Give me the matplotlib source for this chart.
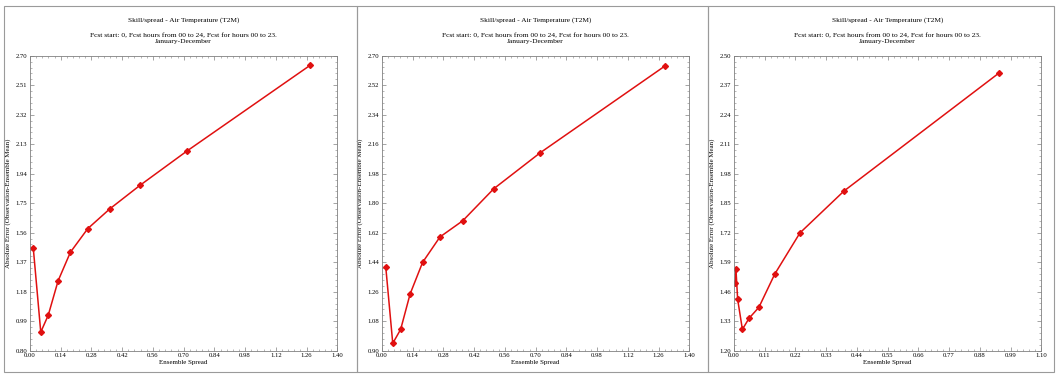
import matplotlib
matplotlib.use("Agg")
import matplotlib.pyplot as plt
from matplotlib.patches import Rectangle
from matplotlib.ticker import FixedLocator, AutoMinorLocator
import numpy as np

# ---- data ----
spread_1 = [0.015, 0.049, 0.083, 0.128, 0.184, 0.263, 0.364, 0.501, 0.715, 1.276]
error_1 = [1.46, 0.92, 1.028, 1.25, 1.434, 1.586, 1.714, 1.865, 2.086, 2.638]

spread_2 = [0.017, 0.049, 0.085, 0.128, 0.185, 0.264, 0.368, 0.509, 0.721, 1.291]
error_2 = [1.413, 0.945, 1.03, 1.246, 1.439, 1.594, 1.693, 1.888, 2.108, 2.639]

spread_3 = [0.004, 0.007, 0.013, 0.030, 0.054, 0.089, 0.146, 0.236, 0.394, 0.950]
error_3 = [1.50, 1.559, 1.427, 1.294, 1.343, 1.391, 1.538, 1.719, 1.904, 2.425]

xticks_1 = [0.00, 0.14, 0.28, 0.42, 0.56, 0.70, 0.84, 0.98, 1.12, 1.26, 1.40]
yticks_1 = [0.80, 0.99, 1.18, 1.37, 1.56, 1.75, 1.94, 2.13, 2.32, 2.51, 2.70]
xticks_2 = [0.00, 0.14, 0.28, 0.42, 0.56, 0.70, 0.84, 0.98, 1.12, 1.26, 1.40]
yticks_2 = [0.90, 1.08, 1.26, 1.44, 1.62, 1.80, 1.98, 2.16, 2.34, 2.52, 2.70]
xticks_3 = [0.00, 0.11, 0.22, 0.33, 0.44, 0.55, 0.66, 0.77, 0.88, 0.99, 1.10]
yticks_3 = [1.20, 1.33, 1.46, 1.59, 1.72, 1.85, 1.98, 2.11, 2.24, 2.37, 2.50]

title = "Skill/spread - Air Temperature (T2M)"
subtitle = "Fcst start: 0, Fcst hours from 00 to 24, Fcst for hours 00 to 23.\nJanuary-December"
xlabel = "Ensemble Spread"
ylabel = "Absolute Error (Observation-Ensemble Mean)"

W, H = 1056, 374
fig = plt.figure(figsize=(W / 100, H / 100), dpi=100)
plt.rcParams['font.family'] = ['Liberation Serif', 'DejaVu Serif']

def fx(px):
    return px / W

def fy(py):
    return 1 - py / H

# panel borders
panel_edges = [(4, 357), (357, 708), (708, 1054)]
for (l, r) in panel_edges:
    fig.patches.append(Rectangle((fx(l), fy(372)), fx(r - l), (372 - 6) / H,
                                 transform=fig.transFigure, fill=False,
                                 edgecolor="#9a9a9a", linewidth=0.8))

panels = [
    (30, spread_1, error_1, xticks_1, yticks_1),
    (382, spread_2, error_2, xticks_2, yticks_2),
    (734, spread_3, error_3, xticks_3, yticks_3),
]

ax_w = 307.3
ax_top, ax_bot = 55.7, 350.7
for left, xs, ys, xt, yt in panels:
    ax = fig.add_axes([fx(left), fy(ax_bot), fx(ax_w), (ax_bot - ax_top) / H])
    ax.plot(xs, ys, color="#e01010", linewidth=1.1, marker="D", markersize=3.0,
            markerfacecolor="#e01010", markeredgecolor="#e01010")
    ax.set_xlim(xt[0], xt[-1])
    ax.set_ylim(yt[0], yt[-1])
    ax.xaxis.set_major_locator(FixedLocator(xt))
    ax.yaxis.set_major_locator(FixedLocator(yt))
    ax.set_xticklabels([f"{v:.2f}" for v in xt])
    ax.set_yticklabels([f"{v:.2f}" for v in yt])
    ax.xaxis.set_minor_locator(AutoMinorLocator(5))
    ax.yaxis.set_minor_locator(AutoMinorLocator(5))
    ax.tick_params(which="both", direction="in", top=True, right=True,
                   labelsize=4.8, color="#808080", pad=2)
    ax.tick_params(which="major", length=3, width=0.5)
    ax.tick_params(which="minor", length=1.5, width=0.4)
    for s in ax.spines.values():
        s.set_color("#808080")
        s.set_linewidth(0.6)
    ax.set_xlabel(xlabel, fontsize=5.0, labelpad=1)
    ax.set_ylabel(ylabel, fontsize=5.0, labelpad=3)
    cx = fx(left + ax_w / 2)
    fig.text(cx, fy(20), title, ha="center", va="center", fontsize=5.3)
    fig.text(cx, fy(38.5), subtitle, ha="center", va="center", fontsize=5.4,
             linespacing=1.0)

fig.savefig("out.png", dpi=100)
